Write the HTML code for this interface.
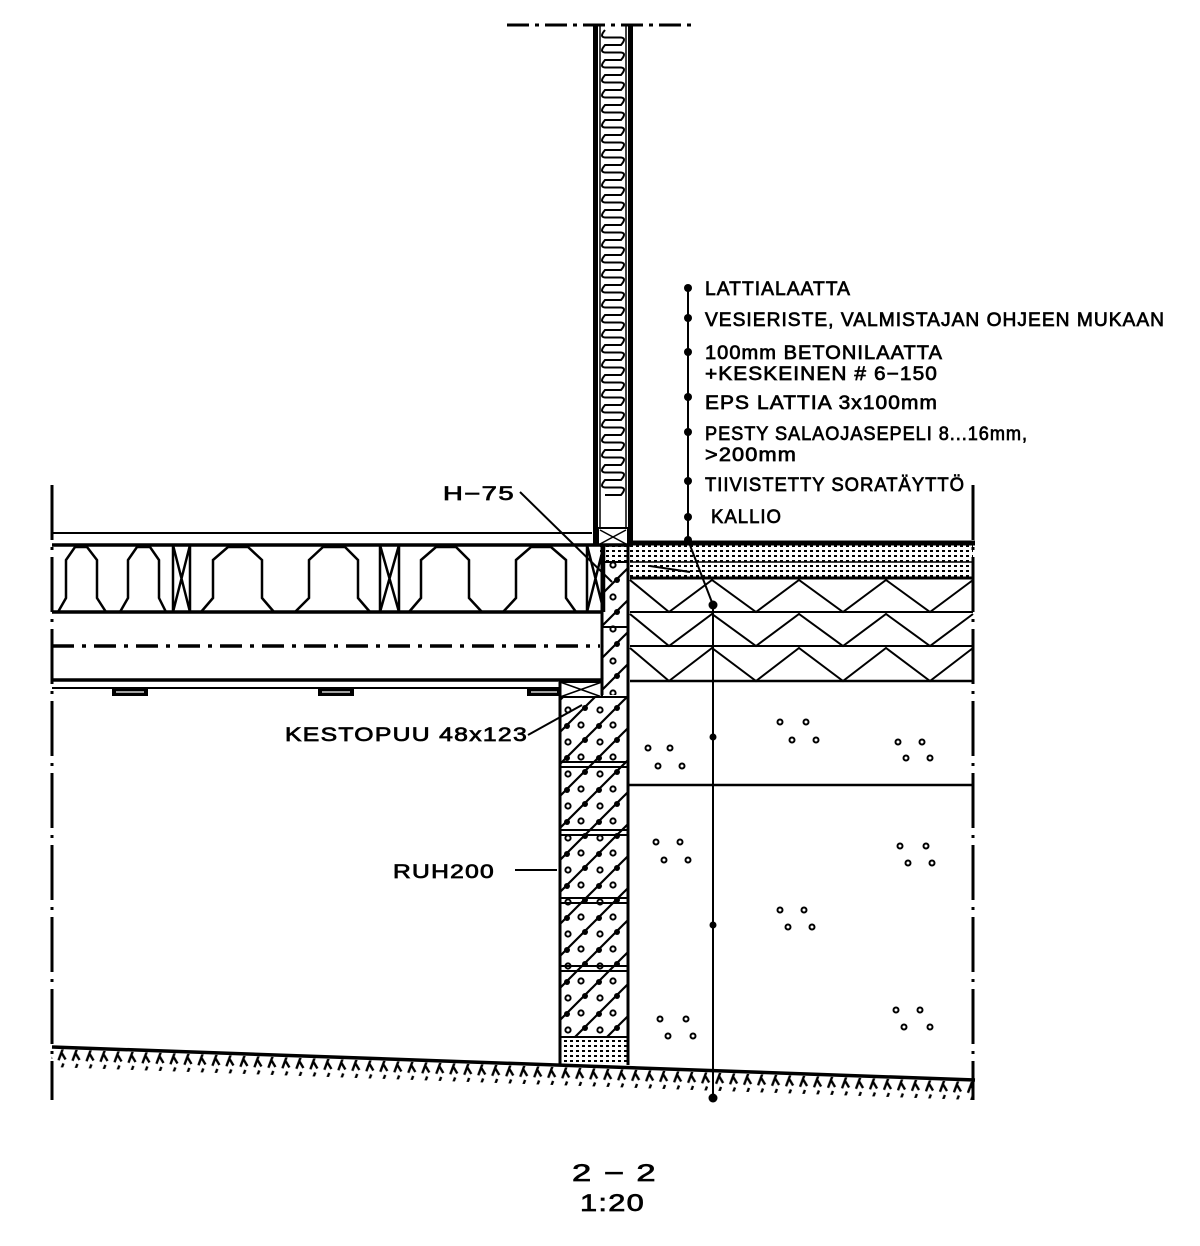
<!DOCTYPE html>
<html><head><meta charset="utf-8"><style>
html,body{margin:0;padding:0;background:#fff}
svg{display:block}
text{font-family:"Liberation Sans",sans-serif;font-size:19px;fill:#000;stroke:#000;stroke-width:0.7;letter-spacing:1px}
</style></head><body>
<svg width="1200" height="1246" viewBox="0 0 1200 1246" xmlns="http://www.w3.org/2000/svg">
<defs>
<pattern id="stip" width="6" height="5" patternUnits="userSpaceOnUse">
<rect x="0" y="0" width="3" height="2" fill="#000"/>
</pattern>
<pattern id="conc" width="32" height="32" patternUnits="userSpaceOnUse" patternTransform="translate(560,700)">
<path d="M0 32 L32 0 M-2 2 L2 -2 M30 34 L34 30" stroke="#000" stroke-width="2.2"/>
<circle cx="8" cy="10" r="2.6" fill="none" stroke="#000" stroke-width="2"/>
<circle cx="21" cy="25" r="2.6" fill="none" stroke="#000" stroke-width="2"/>
<circle cx="25" cy="8" r="3" fill="#000"/>
<circle cx="7" cy="26" r="3" fill="#000"/>
</pattern>
<pattern id="tick" width="14" height="18" patternUnits="userSpaceOnUse">
<path d="M8 1 L3 16 M5.5 8 L10 15" stroke="#000" stroke-width="2.4" fill="none"/>
</pattern>
</defs>
<g stroke="#000" fill="none" stroke-linecap="butt">
<line x1="507" y1="25" x2="695" y2="25" stroke-width="3" stroke-dasharray="22 6 4 6"/>
<rect x="593" y="25" width="5" height="520" fill="#000" stroke="none"/>
<line x1="600" y1="25" x2="600" y2="545" stroke-width="1.5"/>
<line x1="626" y1="25" x2="626" y2="545" stroke-width="1.5"/>
<rect x="628" y="25" width="5" height="520" fill="#000" stroke="none"/>
<path d="M605 30 q-6 7 0 7.5 h16 q6 0.5 0 7.5 h-16 q-6 7 0 7.5 h16 q6 0.5 0 7.5 h-16 q-6 7 0 7.5 h16 q6 0.5 0 7.5 h-16 q-6 7 0 7.5 h16 q6 0.5 0 7.5 h-16 q-6 7 0 7.5 h16 q6 0.5 0 7.5 h-16 q-6 7 0 7.5 h16 q6 0.5 0 7.5 h-16 q-6 7 0 7.5 h16 q6 0.5 0 7.5 h-16 q-6 7 0 7.5 h16 q6 0.5 0 7.5 h-16 q-6 7 0 7.5 h16 q6 0.5 0 7.5 h-16 q-6 7 0 7.5 h16 q6 0.5 0 7.5 h-16 q-6 7 0 7.5 h16 q6 0.5 0 7.5 h-16 q-6 7 0 7.5 h16 q6 0.5 0 7.5 h-16 q-6 7 0 7.5 h16 q6 0.5 0 7.5 h-16 q-6 7 0 7.5 h16 q6 0.5 0 7.5 h-16 q-6 7 0 7.5 h16 q6 0.5 0 7.5 h-16 q-6 7 0 7.5 h16 q6 0.5 0 7.5 h-16 q-6 7 0 7.5 h16 q6 0.5 0 7.5 h-16 q-6 7 0 7.5 h16 q6 0.5 0 7.5 h-16 q-6 7 0 7.5 h16 q6 0.5 0 7.5 h-16 q-6 7 0 7.5 h16 q6 0.5 0 7.5 h-16 q-6 7 0 7.5 h16 q6 0.5 0 7.5 h-16 q-6 7 0 7.5 h16 q6 0.5 0 7.5 h-16 q-6 7 0 7.5 h16 q6 0.5 0 7.5 h-16 q-6 7 0 7.5 h16 q6 0.5 0 7.5 h-16 q-6 7 0 7.5 h16 q6 0.5 0 7.5 h-16 q-6 7 0 7.5 h16 q6 0.5 0 7.5 h-16 q-6 7 0 7.5 h16 q6 0.5 0 7.5 h-16 q-6 7 0 7.5 h16 q6 0.5 0 7.5 h-16 q-6 7 0 7.5 h16 q6 0.5 0 7.5 h-16 q-6 7 0 7.5 h16 q6 0.5 0 7.5 h-16 q-6 7 0 7.5 h16 q6 0.5 0 7.5 h-16" stroke-width="2"/>
<rect x="598" y="528" width="30" height="17" fill="#fff" stroke-width="2"/>
<path d="M600 530 L626 544 M626 530 L600 544" stroke-width="1.5"/>
<line x1="52" y1="533" x2="592" y2="533" stroke-width="2"/>
<line x1="52" y1="545" x2="630" y2="545" stroke-width="3.5"/>
<line x1="52" y1="612" x2="602" y2="612" stroke-width="3.5"/>
<line x1="52" y1="646" x2="600" y2="646" stroke-width="3.5" stroke-dasharray="22 8 4 8"/>
<line x1="52" y1="680" x2="602" y2="680" stroke-width="3.5"/>
<line x1="52" y1="688" x2="560" y2="688" stroke-width="2"/>
<line x1="52" y1="485" x2="52" y2="1100" stroke-width="3" stroke-dasharray="55 7 3 7"/>
<g stroke-width="2.5">
<path d="M58 612 L66 598 L66 560 L75 547 L87 547 L97 560 L97 598 L106 612"/>
<path d="M120 612 L128 598 L128 560 L137 547 L150 547 L159 560 L159 598 L166 612"/>
<path d="M201 612 L213 598 L213 560 L228 547 L248 547 L262 560 L262 598 L274 612"/>
<path d="M295 612 L309 598 L309 560 L323 547 L345 547 L358 560 L358 598 L370 612"/>
<path d="M409 612 L421 598 L421 560 L436 547 L456 547 L469 560 L469 598 L482 612"/>
<path d="M503 612 L516 598 L516 560 L531 547 L551 547 L566 560 L566 598 L576 612"/>
<path d="M173 545 V612 M190 545 V612 M173 545 L190 612 M190 545 L173 612"/>
<path d="M380 545 V612 M399 545 V612 M380 545 L399 612 M399 545 L380 612"/>
<path d="M587 545 V612 M604 545 V612 M587 545 L604 612 M604 545 L587 612"/>
</g>
<g fill="#000" stroke="none">
<rect x="112" y="689" width="36" height="7"/><rect x="318" y="689" width="36" height="7"/><rect x="527" y="689" width="34" height="7"/>
</g>
<g stroke="#fff" stroke-width="1.2"><line x1="116" y1="692" x2="144" y2="692"/><line x1="322" y1="692" x2="350" y2="692"/><line x1="531" y1="692" x2="557" y2="692"/></g>
<rect x="560" y="682" width="42" height="15" stroke-width="2"/>
<path d="M560 682 L602 697 M602 682 L560 697" stroke-width="1.5"/>
<rect x="602" y="562" width="26" height="133" fill="url(#conc)" stroke="none"/>
<rect x="560" y="697" width="68" height="340" fill="url(#conc)" stroke="none"/>
<rect x="600" y="545" width="28" height="17" fill="url(#stip)" stroke="none"/>
<rect x="560" y="1037" width="68" height="28" fill="url(#stip)" stroke="none"/>
<path d="M602 545 V695" stroke-width="3"/>
<path d="M628 545 V1065" stroke-width="3"/>
<path d="M560 682 V1065" stroke-width="3"/>
<line x1="602" y1="627" x2="628" y2="627" stroke-width="2"/>
<line x1="602" y1="562" x2="628" y2="562" stroke-width="2"/>
<line x1="560" y1="697" x2="628" y2="697" stroke-width="2"/>
<g stroke-width="2">
<line x1="560" y1="762" x2="628" y2="762"/><line x1="560" y1="767" x2="628" y2="767"/>
<line x1="560" y1="830" x2="628" y2="830"/><line x1="560" y1="835" x2="628" y2="835"/>
<line x1="560" y1="898" x2="628" y2="898"/><line x1="560" y1="903" x2="628" y2="903"/>
<line x1="560" y1="966" x2="628" y2="966"/><line x1="560" y1="971" x2="628" y2="971"/>
<line x1="560" y1="1037" x2="628" y2="1037"/>
</g>
<rect x="630" y="545" width="343" height="33" fill="url(#stip)" stroke="none"/>
<line x1="630" y1="543" x2="975" y2="543" stroke-width="5"/>
<line x1="630" y1="562" x2="973" y2="562" stroke-width="1.5"/>
<line x1="630" y1="578" x2="973" y2="578" stroke-width="3"/>
<line x1="650" y1="566" x2="690" y2="572" stroke-width="2"/>
<line x1="630" y1="612" x2="973" y2="612" stroke-width="2"/>
<line x1="630" y1="646" x2="973" y2="646" stroke-width="2"/>
<line x1="630" y1="681" x2="973" y2="681" stroke-width="2.5"/>
<g stroke-width="2">
<path d="M630 580 L669 612 L712 580 L756 612 L799 580 L843 612 L886 580 L930 612 L973 580"/>
<path d="M630 614 L669 646 L712 614 L756 646 L799 614 L843 646 L886 614 L930 646 L973 614"/>
<path d="M630 648 L669 681 L712 648 L756 681 L799 648 L843 681 L886 648 L930 681 L973 648"/>
</g>
<line x1="628" y1="785" x2="973" y2="785" stroke-width="2.5"/>
<line x1="973" y1="485" x2="973" y2="1100" stroke-width="3" stroke-dasharray="55 7 3 7"/>
<g stroke-width="2">
<circle cx="648" cy="748" r="2.5"/><circle cx="670" cy="748" r="2.5"/><circle cx="658" cy="766" r="2.5"/><circle cx="682" cy="766" r="2.5"/>
<circle cx="780" cy="722" r="2.5"/><circle cx="806" cy="722" r="2.5"/><circle cx="792" cy="740" r="2.5"/><circle cx="816" cy="740" r="2.5"/>
<circle cx="898" cy="742" r="2.5"/><circle cx="922" cy="742" r="2.5"/><circle cx="906" cy="758" r="2.5"/><circle cx="930" cy="758" r="2.5"/>
<circle cx="656" cy="842" r="2.5"/><circle cx="680" cy="842" r="2.5"/><circle cx="664" cy="860" r="2.5"/><circle cx="688" cy="860" r="2.5"/>
<circle cx="900" cy="846" r="2.5"/><circle cx="926" cy="846" r="2.5"/><circle cx="908" cy="863" r="2.5"/><circle cx="932" cy="863" r="2.5"/>
<circle cx="780" cy="910" r="2.5"/><circle cx="804" cy="910" r="2.5"/><circle cx="788" cy="927" r="2.5"/><circle cx="812" cy="927" r="2.5"/>
<circle cx="660" cy="1019" r="2.5"/><circle cx="686" cy="1019" r="2.5"/><circle cx="668" cy="1036" r="2.5"/><circle cx="693" cy="1036" r="2.5"/>
<circle cx="896" cy="1010" r="2.5"/><circle cx="920" cy="1010" r="2.5"/><circle cx="904" cy="1027" r="2.5"/><circle cx="930" cy="1027" r="2.5"/>
</g>
<line x1="52" y1="1047" x2="975" y2="1080" stroke-width="3.5"/>
<g transform="rotate(2.05 52 1047)">
<rect x="52" y="1049" width="923" height="18" fill="url(#tick)" stroke="none"/>
</g>
<line x1="688" y1="288" x2="688" y2="540" stroke-width="2"/>
<line x1="688" y1="540" x2="713" y2="605" stroke-width="2"/>
<line x1="713" y1="605" x2="713" y2="1098" stroke-width="2"/>
<line x1="520" y1="492" x2="612" y2="582" stroke-width="2"/>
<line x1="528" y1="735" x2="582" y2="705" stroke-width="2"/>
<line x1="515" y1="870" x2="557" y2="870" stroke-width="2"/>
</g>
<g fill="#000">
<circle cx="688" cy="288" r="4"/><circle cx="688" cy="318" r="4"/><circle cx="688" cy="352" r="4"/><circle cx="688" cy="397" r="4"/>
<circle cx="688" cy="432" r="4"/><circle cx="688" cy="481" r="4"/><circle cx="688" cy="517" r="4"/><circle cx="688" cy="540" r="4"/>
<circle cx="713" cy="605" r="4.5"/><circle cx="713" cy="737" r="3.5"/><circle cx="713" cy="925" r="3.5"/><circle cx="713" cy="1098" r="4.5"/>
</g>
<text x="705" y="295" textLength="146" lengthAdjust="spacingAndGlyphs">LATTIALAATTA</text>
<text x="705" y="326" textLength="460" lengthAdjust="spacingAndGlyphs">VESIERISTE, VALMISTAJAN OHJEEN MUKAAN</text>
<text x="705" y="359" textLength="238" lengthAdjust="spacingAndGlyphs">100mm BETONILAATTA</text>
<text x="705" y="380" textLength="233" lengthAdjust="spacingAndGlyphs">+KESKEINEN # 6−150</text>
<text x="705" y="409" textLength="233" lengthAdjust="spacingAndGlyphs">EPS LATTIA 3x100mm</text>
<text x="705" y="440" textLength="323" lengthAdjust="spacingAndGlyphs">PESTY SALAOJASEPELI 8...16mm,</text>
<text x="705" y="461" textLength="92" lengthAdjust="spacingAndGlyphs">&gt;200mm</text>
<text x="705" y="491" textLength="260" lengthAdjust="spacingAndGlyphs">TIIVISTETTY SORATÄYTTÖ</text>
<text x="711" y="523" textLength="71" lengthAdjust="spacingAndGlyphs">KALLIO</text>
<text x="443" y="500" textLength="72" lengthAdjust="spacingAndGlyphs">H−75</text>
<text x="285" y="741" textLength="243" lengthAdjust="spacingAndGlyphs">KESTOPUU 48x123</text>
<text x="393" y="878" textLength="102" lengthAdjust="spacingAndGlyphs">RUH200</text>
<text x="572" y="1181" textLength="85" lengthAdjust="spacingAndGlyphs" style="font-size:24px">2 − 2</text>
<text x="580" y="1211" textLength="65" lengthAdjust="spacingAndGlyphs" style="font-size:24px">1:20</text>
</svg>
</body></html>
